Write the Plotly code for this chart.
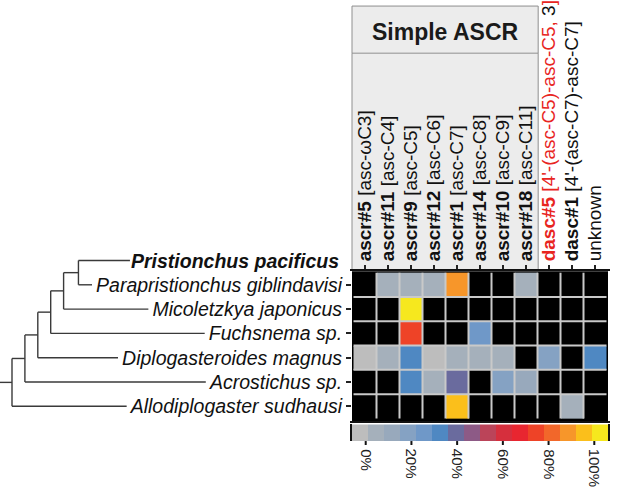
import plotly.graph_objects as go

W, H = 617, 498
FONT = "Liberation Sans, Arial, Helvetica, sans-serif"

# ---------------- data ----------------
species = ["Pristionchus pacificus", "Parapristionchus giblindavisi", "Micoletzkya japonicus",
           "Fuchsnema sp.", "Diplogasteroides magnus", "Acrostichus sp.", "Allodiplogaster sudhausi"]
reference_species = species[0]
heat_species = species[1:]

compound_ids = ["ascr#5", "ascr#11", "ascr#9", "ascr#12", "ascr#1", "ascr#14", "ascr#10",
                "ascr#18", "dasc#5", "dasc#1", "unknown"]
compound_names = ["[asc-ωC3]", "[asc-C4]", "[asc-C5]", "[asc-C6]", "[asc-C7]", "[asc-C8]",
                  "[asc-C9]", "[asc-C11]", "[4'-(asc-C5)-asc-C5, 3]", "[4'-(asc-C7)-asc-C7]", ""]
group_label = "Simple ASCR"
n_simple = 8

N = None  # not detected (black)
pct_row_para = [N, 3, 3, 2, 88, N, N, 4, N, N, N]
pct_row_mico = [N, N, 100, N, N, N, N, N, N, N, N]
pct_row_fuch = [N, N, 76, N, N, 24, N, N, N, N, N]
pct_row_dipl = [0.5, 4, 32, 0.5, 4, 4, 5, N, 18, N, 32]
pct_row_acro = [N, N, 30, 3, 39, N, 18, 10, N, N, N]
pct_row_allo = [N, N, N, N, 95, N, N, N, N, 5, N]
pct = [pct_row_para, pct_row_mico, pct_row_fuch, pct_row_dipl, pct_row_acro, pct_row_allo]

scale_colors = ["#bdbdbd", "#a5b0bb", "#98a9bc", "#85a2c3", "#6f98c8", "#4f88c2", "#6a6b9e",
                "#8d5a86", "#bb4459", "#d62f3d", "#e82630", "#ee4327", "#f2672a", "#f7962a",
                "#fbbf1b", "#f6e81e"]
scale_min, scale_max = -0.06, 1.06
cbar_ticks = [0, 20, 40, 60, 80, 100]

# ladder tree: (node depth, left, right); leaves are species indices
tree = (0.0, (1.0, (2.0, (3.0, (4.0, (5.15, 0, 1), 2), 3), 4), 5), 6)
stem_depth = -0.93

# ---------------- layout helpers ----------------
def px(x):
    return x / W

def py(y):
    return 1 - y / H

HX0, HX1, HY0, HY1 = 352, 608, 267, 420       # heatmap box (pixels)
CY0, CY1 = 423, 440                            # colour bar box
nC, nR = len(compound_ids), len(heat_species)
cw = (HX1 - HX0 - 3.0) / nC
ch = (HY1 - HY0 - 4.5) / nR
x_range = [-0.5 - 1.5 / cw, nC - 0.5 + 1.5 / cw]
y_top, y_bot = -0.5 - 1.5 / ch, nR - 0.5 + 3.0 / ch

# text width (Arial metrics) to end the leaf branches at the labels
REG = dict(zip("abcdefghijklmnopqrstuvwxyz", [556, 556, 500, 556, 556, 278, 556, 556, 222, 222, 500, 222, 833,
                                               556, 556, 556, 556, 333, 500, 278, 556, 500, 722, 500, 500, 500]))
REG.update({" ": 278, ".": 278, "A": 667, "D": 722, "F": 611, "M": 833, "P": 667})
BOLD = dict(zip("abcdefghijklmnopqrstuvwxyz", [556, 611, 556, 611, 556, 333, 611, 611, 278, 278, 556, 278, 889,
                                                611, 611, 611, 611, 389, 556, 333, 611, 556, 778, 556, 556, 500]))
BOLD.update({" ": 278, ".": 278, "P": 667})

def text_w(s, size, bold=False):
    t = BOLD if bold else REG
    return sum(t.get(c, 556) for c in s) / 1000 * size

LABEL_SIZE = 19.5
label_right = 341
DX0, DX1 = 0, 340
unit = 12.9
d_range = [-12 / unit, (DX1 - 12) / unit]

def leaf_x(i):
    w = text_w(species[i], LABEL_SIZE, bold=(i == 0))
    return (label_right - w - 3 - 12) / unit

# dendrogram y axis spans whole figure with same per-row scale as heatmap
upp = (y_bot - y_top) / (HY1 - HY0)
d_yr = [y_bot + (H - HY1) * upp, y_top - HY0 * upp]

seg_x, seg_y = [], []

def walk(node):
    if isinstance(node, int):
        return node - 1, leaf_x(node)
    depth, a, b = node
    ya, xa = walk(a)
    yb, xb = walk(b)
    seg_x.extend([depth, xa, None, depth, xb, None, depth, depth, None])
    seg_y.extend([ya, ya, None, yb, yb, None, ya, yb, None])
    return (ya + yb) / 2, depth

root_y, root_x = walk(tree)
seg_x.extend([stem_depth, root_x, None])
seg_y.extend([root_y, root_y, None])

# colour scale (discrete bins)
nb = len(scale_colors)
bw = (scale_max - scale_min) / nb
cscale = []
for k, c in enumerate(scale_colors):
    cscale.append([k / nb, c])
    cscale.append([(k + 1) / nb, c])
bin_centers = [scale_min + (k + 0.5) * bw for k in range(nb)]

z = [[None if v is None else v / 100 for v in row] for row in pct]

def col_label(i):
    cid, nm = compound_ids[i], compound_names[i]
    if cid == "unknown":
        return cid
    if cid == "dasc#5":
        return ("<span style='color:#e8251f'><b>dasc#5</b> [4'-(asc-C5)-asc-C5, </span>"
                "3<span style='color:#e8251f'>]</span>")
    return f"<b>{cid}</b> {nm}"

fig = go.Figure()

fig.add_trace(go.Heatmap(z=z, x=list(range(nC)), y=list(range(nR)), colorscale=cscale,
                         zmin=scale_min, zmax=scale_max, showscale=False, hoverongaps=False,
                         xaxis="x", yaxis="y"))
fig.add_trace(go.Scatter(x=seg_x, y=seg_y, mode="lines", line=dict(color="#3a3a3a", width=1.4),
                         xaxis="x2", yaxis="y2", showlegend=False, hoverinfo="skip"))
fig.add_trace(go.Heatmap(z=[bin_centers], x=bin_centers, y=[0], colorscale=cscale,
                         zmin=scale_min, zmax=scale_max, showscale=False,
                         xaxis="x3", yaxis="y3"))

shapes = []
# black under-layer of the heat map
shapes.append(dict(type="rect", xref="x domain", yref="y domain", x0=0, x1=1, y0=0, y1=1,
                   fillcolor="black", line=dict(width=0), layer="below"))
# cell separators
for k in range(nC - 1):
    shapes.append(dict(type="line", xref="x", yref="y", x0=k + 0.5, x1=k + 0.5, y0=-0.5, y1=nR - 0.5,
                       line=dict(color="#c9c9c9", width=2), layer="above"))
for k in range(nR - 1):
    shapes.append(dict(type="line", xref="x", yref="y", x0=-0.5, x1=nC - 0.5, y0=k + 0.5, y1=k + 0.5,
                       line=dict(color="#c9c9c9", width=2), layer="above"))
# group header boxes
gx1 = HX0 + (HX1 - HX0) * n_simple / nC
shapes.append(dict(type="rect", xref="paper", yref="paper", x0=px(HX0), x1=px(gx1), y0=py(265), y1=py(45),
                   fillcolor="#ececec", line=dict(width=0), layer="below"))
shapes.append(dict(type="rect", xref="paper", yref="paper", x0=px(HX0), x1=px(gx1), y0=py(45), y1=py(-3),
                   fillcolor="#ececec", line=dict(color="#8f8f8f", width=1), layer="below"))
for xx in (HX0, gx1):
    shapes.append(dict(type="line", xref="paper", yref="paper", x0=px(xx), x1=px(xx), y0=py(265), y1=py(45),
                       line=dict(color="#8f8f8f", width=1), layer="below"))
# colour-bar tick marks
for t in cbar_ticks:
    shapes.append(dict(type="line", xref="x3", yref="paper", x0=t / 100, x1=t / 100, y0=py(CY1), y1=py(CY1 + 4),
                       line=dict(color="#111", width=2)))

annotations = [
    dict(text=f"<b>{group_label}</b>", xref="paper", yref="paper", x=px((HX0 + gx1) / 2), y=py(23),
         showarrow=False, font=dict(size=23, color="#1a1a1a", family=FONT), xanchor="center", yanchor="middle"),
    dict(text=f"<b><i>{reference_species}</i></b>", xref="paper", yref="y2", x=px(label_right), y=-1,
         showarrow=False, xanchor="right", yanchor="middle", font=dict(size=LABEL_SIZE, color="#111", family=FONT)),
]
for t in cbar_ticks:
    annotations.append(dict(text=f"{t}%", xref="x3", yref="paper", x=t / 100, y=py(CY1 + 6),
                            textangle=90, showarrow=False, xanchor="center", yanchor="top",
                            font=dict(size=15, color="#222", family=FONT)))

fig.update_layout(
    width=W, height=H, margin=dict(l=0, r=0, t=0, b=0),
    paper_bgcolor="white", plot_bgcolor="rgba(0,0,0,0)",
    shapes=shapes, annotations=annotations, showlegend=False,
    font=dict(family=FONT, color="#111"),
    xaxis=dict(domain=[px(HX0), px(HX1)], range=x_range, side="top", tickmode="array",
               tickvals=list(range(nC)), ticktext=[col_label(i) for i in range(nC)], tickangle=-90,
               ticks="outside", ticklen=5, tickwidth=1.5, tickcolor="#222",
               tickfont=dict(size=19, color="#111", family=FONT),
               showgrid=False, zeroline=False, showline=False, fixedrange=True),
    yaxis=dict(domain=[py(HY1), py(HY0)], range=[y_bot, y_top], tickmode="array",
               tickvals=list(range(nR)), ticktext=[f"<i>{s}</i>" for s in heat_species],
               ticks="outside", ticklen=5, tickwidth=1.5, tickcolor="#222",
               tickfont=dict(size=LABEL_SIZE, color="#111", family=FONT),
               showgrid=False, zeroline=False, showline=False, fixedrange=True),
    xaxis2=dict(domain=[px(DX0), px(DX1)], range=d_range, visible=False, fixedrange=True),
    yaxis2=dict(domain=[0, 1], range=d_yr, visible=False, fixedrange=True),
    xaxis3=dict(domain=[px(HX0), px(HX1)], range=[scale_min, scale_max], showticklabels=False, ticks="",
                showline=True, mirror=True, linecolor="#111", linewidth=1.5,
                showgrid=False, zeroline=False, fixedrange=True),
    yaxis3=dict(domain=[py(CY1), py(CY0)], range=[-0.5, 0.5], showticklabels=False, ticks="",
                showline=True, mirror=True, linecolor="#111", linewidth=1.5,
                showgrid=False, zeroline=False, fixedrange=True),
)

fig.write_html("out.html", config={"displayModeBar": False},
               post_script="document.body.style.margin='0px'; document.body.style.overflow='hidden';")
